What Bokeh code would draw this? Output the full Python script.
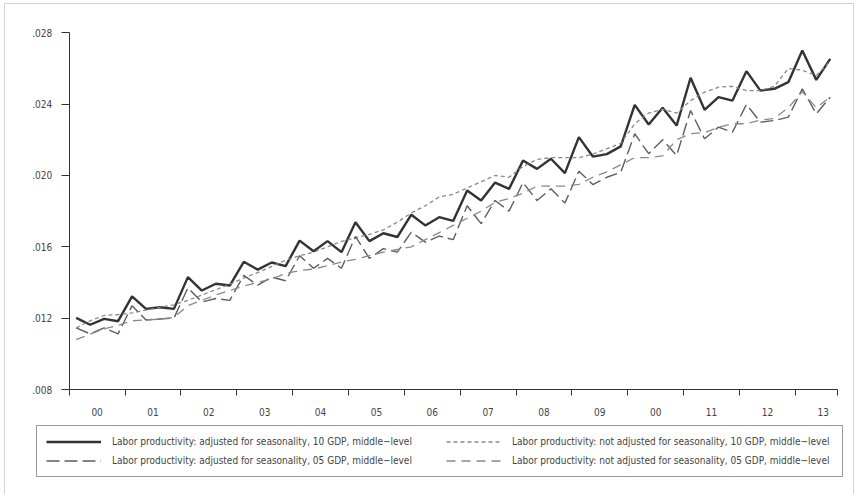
from bokeh.plotting import figure
from bokeh.models import FixedTicker, CustomJSTickFormatter, Legend, LegendItem
from bokeh.embed import file_html
from bokeh.resources import INLINE
import numpy as np

# Year labels along the quarterly axis (2000Q1 .. 2013Q3)
year_labels = ["00", "01", "02", "03", "04", "05", "06", "07", "08", "09",
               "00", "11", "12", "13"]

# Labor productivity, quarterly
adj_10 = [0.01202, 0.01163, 0.01196, 0.01183,
          0.01322, 0.01252, 0.01261, 0.01252,
          0.01430, 0.01355, 0.01393, 0.01383,
          0.01516, 0.01472, 0.01512, 0.01492,
          0.01635, 0.01575, 0.01632, 0.01570,
          0.01738, 0.01632, 0.01676, 0.01655,
          0.01780, 0.01720, 0.01766, 0.01745,
          0.01916, 0.01860, 0.01960, 0.01925,
          0.02084, 0.02037, 0.02094, 0.02013,
          0.02215, 0.02106, 0.02120, 0.02163,
          0.02396, 0.02286, 0.02380, 0.02280,
          0.02548, 0.02368, 0.02439, 0.02420,
          0.02585, 0.02476, 0.02486, 0.02523,
          0.02701, 0.02536, 0.02654]

nadj_10 = [0.01145, 0.01185, 0.01215, 0.01220,
           0.01230, 0.01245, 0.01260, 0.01275,
           0.01300, 0.01330, 0.01360, 0.01390,
           0.01425, 0.01455, 0.01490, 0.01525,
           0.01550, 0.01570, 0.01600, 0.01630,
           0.01650, 0.01670, 0.01695, 0.01738,
           0.01790, 0.01830, 0.01880, 0.01895,
           0.01930, 0.01965, 0.02000, 0.01990,
           0.02050, 0.02090, 0.02100, 0.02100,
           0.02100, 0.02120, 0.02150, 0.02180,
           0.02290, 0.02350, 0.02370, 0.02350,
           0.02420, 0.02467, 0.02495, 0.02500,
           0.02476, 0.02476, 0.02500, 0.02600,
           0.02590, 0.02560, 0.02640]

adj_05 = [0.01145, 0.01112, 0.01145, 0.01112,
          0.01270, 0.01190, 0.01195, 0.01200,
          0.01370, 0.01290, 0.01310, 0.01300,
          0.01440, 0.01385, 0.01430, 0.01410,
          0.01550, 0.01480, 0.01535, 0.01480,
          0.01658, 0.01535, 0.01590, 0.01570,
          0.01682, 0.01626, 0.01660, 0.01640,
          0.01830, 0.01730, 0.01860, 0.01800,
          0.01960, 0.01860, 0.01925, 0.01845,
          0.02024, 0.01949, 0.01990, 0.02018,
          0.02234, 0.02122, 0.02200, 0.02112,
          0.02364, 0.02206, 0.02271, 0.02243,
          0.02398, 0.02299, 0.02308, 0.02327,
          0.02486, 0.02346, 0.02439]

nadj_05 = [0.01080, 0.01110, 0.01140, 0.01160,
           0.01185, 0.01190, 0.01195, 0.01205,
           0.01270, 0.01300, 0.01330, 0.01355,
           0.01380, 0.01400, 0.01420, 0.01450,
           0.01467, 0.01475, 0.01495, 0.01515,
           0.01530, 0.01550, 0.01570, 0.01585,
           0.01600, 0.01640, 0.01680, 0.01720,
           0.01760, 0.01800, 0.01850, 0.01870,
           0.01900, 0.01940, 0.01940, 0.01940,
           0.01950, 0.01990, 0.02020, 0.02060,
           0.02100, 0.02100, 0.02110, 0.02200,
           0.02235, 0.02240, 0.02270, 0.02290,
           0.02290, 0.02310, 0.02320, 0.02380,
           0.02470, 0.02380, 0.02440]

labels = [
    "Labor productivity: adjusted for seasonality, 10 GDP, middle\u2212level",
    "Labor productivity: not adjusted for seasonality, 10 GDP, middle\u2212level",
    "Labor productivity: adjusted for seasonality, 05 GDP, middle\u2212level",
    "Labor productivity: not adjusted for seasonality, 05 GDP, middle\u2212level",
]

# line styles, in legend order
styles = [
    dict(line_color="#333333", line_width=2.4),
    dict(line_color="#8a8a8a", line_width=1.3, line_dash="4 3"),
    dict(line_color="#5e5e5e", line_width=1.4, line_dash="13 5"),
    dict(line_color="#8a8a8a", line_width=1.3, line_dash="9 6"),
]
series = [adj_10, nadj_10, adj_05, nadj_05]

n_q = len(adj_10)
xq = np.arange(n_q) + 0.5          # each quarter sits in the middle of its slot
y_lo, y_hi = 0.008, 0.028

FONT = "DejaVu Sans Condensed"

# The frame fills the whole canvas so the legend strip below the axes is not
# clipped; the axes are pinned at fixed data positions inside it.
W, H = 850, 491
left_px, right_px, top_px, bottom_px = 63.7, 831.7, 28.3, 385.0
sx = (right_px - left_px) / n_q
sy = (bottom_px - top_px) / (y_hi - y_lo)
x_range = (-left_px / sx, n_q + (W - right_px) / sx)
y_range = (y_lo - (H - bottom_px) / sy, y_hi + top_px / sy)

p = figure(width=W, height=H, x_range=x_range, y_range=y_range,
           output_backend="svg", toolbar_location=None, min_border=0,
           margin=(3, 0, 0, 4))
p.styles = {"border-top": "1px solid #d4d4d4", "border-left": "1px solid #d4d4d4",
            "border-right": "1px solid #d4d4d4"}
p.grid.visible = False
p.outline_line_color = None

renderers = [p.line(xq, vals, **st) for vals, st in zip(series, styles)]

# x axis: year boundaries as (minor) tick marks, year names centred in each year
bounds = list(range(0, n_q, 4)) + [n_q]
centres = [4 * k + 2 for k in range(len(year_labels))]
xa = p.xaxis[0]
xa.fixed_location = y_lo
xa.bounds = (0, n_q)
xa.ticker = FixedTicker(ticks=centres, minor_ticks=bounds)
xa.major_label_overrides = {c: lab for c, lab in zip(centres, year_labels)}
xa.major_tick_in = 0
xa.major_tick_out = 0
xa.minor_tick_in = 0
xa.minor_tick_out = 6
xa.major_label_standoff = 12

ya = p.yaxis[0]
ya.fixed_location = 0
ya.bounds = (y_lo, y_hi)
ya.ticker = FixedTicker(ticks=[0.008, 0.012, 0.016, 0.020, 0.024, 0.028])
ya.formatter = CustomJSTickFormatter(code="return tick.toFixed(3).replace(/^0/, '');")
ya.major_tick_in = 0
ya.major_tick_out = 8
ya.major_label_standoff = 9

for ax in (xa, ya):
    ax.axis_line_color = "#333333"
    ax.major_tick_line_color = "#333333"
    ax.major_label_text_font = FONT
    ax.major_label_text_font_size = "10px"
    ax.major_label_text_color = "#444444"
xa.minor_tick_line_color = "#333333"
ya.minor_tick_line_color = None

# Two-column legend: the left legend carries the frame around both columns,
# the right one sits inside it without a frame of its own.
legend_common = dict(
    orientation="vertical",
    label_text_font=FONT, label_text_font_size="10px", label_text_color="#444444",
    glyph_width=55, glyph_height=13, label_height=13,
    label_standoff=11, spacing=6, padding=9, margin=0,
)
legend_left = Legend(
    items=[LegendItem(label=labels[0], renderers=[renderers[0]]),
           LegendItem(label=labels[2], renderers=[renderers[2]])],
    location=(31, 18), label_width=721,
    border_line_color="#333333", border_line_width=1,
    background_fill_color="white", background_fill_alpha=1.0,
    **legend_common,
)
legend_right = Legend(
    items=[LegendItem(label=labels[1], renderers=[renderers[1]]),
           LegendItem(label=labels[3], renderers=[renderers[3]])],
    location=(441, 28),
    border_line_color=None, background_fill_alpha=0.0,
    **legend_common,
)
p.add_layout(legend_left, "center")
p.add_layout(legend_right, "center")

open("out.html", "w").write(file_html(p, INLINE))
